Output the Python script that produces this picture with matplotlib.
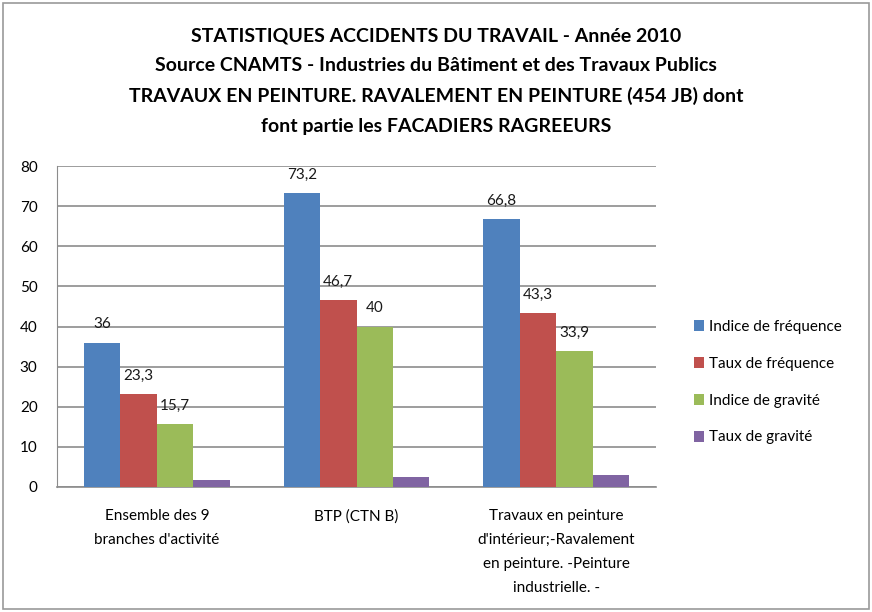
import matplotlib.pyplot as plt
import numpy as np
from matplotlib.patches import Rectangle

plt.rcParams['font.family'] = ['Lato', 'DejaVu Sans']

# Données
categories = ["Ensemble des 9\nbranches d'activité",
              "BTP (CTN B)",
              "Travaux en peinture\nd'intérieur;-Ravalement\nen peinture. -Peinture\nindustrielle. -"]
series = ["Indice de fréquence", "Taux de fréquence", "Indice de gravité", "Taux de gravité"]
indice_frequence = [36, 73.2, 66.8]
taux_frequence = [23.3, 46.7, 43.3]
indice_gravite = [15.7, 40, 33.9]
taux_gravite = [1.8, 2.6, 3.0]
labels_visibles = [True, True, True, False]

couleurs = ['#4F81BD', '#C0504D', '#9BBB59', '#8064A2']
valeurs = [indice_frequence, taux_frequence, indice_gravite, taux_gravite]

fig = plt.figure(figsize=(8.72, 6.12), dpi=100)
ax = fig.add_axes([57/872, 1 - 487/612, (656 - 57)/872, (487 - 166)/612])

x = np.arange(len(categories))
largeur = 0.73 / 4
for i, (nom, vals, c) in enumerate(zip(series, valeurs, couleurs)):
    pos = x - 0.365 + largeur * (i + 0.5)
    barres = ax.bar(pos, vals, largeur, color=c, label=nom, zorder=3)
    if labels_visibles[i]:
        for b, v in zip(barres, vals):
            txt = f"{v:g}".replace('.', ',')
            ax.annotate(txt, (b.get_x() + b.get_width() / 2, v),
                        xytext=(0, 8), textcoords='offset points',
                        ha='center', va='bottom', fontsize=11, color='#1a1a1a')

ax.set_xlim(-0.5, 2.5)
ax.set_ylim(0, 80)
ax.set_yticks(range(0, 81, 10))
ax.set_xticks(x)
ax.set_xticklabels(categories, fontsize=11, linespacing=1.9, va='top')
ax.tick_params(axis='y', length=0, pad=14, labelsize=11)
ax.tick_params(axis='x', length=0, pad=16)
ax.grid(axis='y', color='#8c8c8c', linewidth=1.2, zorder=0)
for s in ['top', 'right']:
    ax.spines[s].set_visible(False)
ax.spines['left'].set_color('#8c8c8c')
ax.spines['bottom'].set_color('#8c8c8c')
ax.spines['bottom'].set_linewidth(1.2)

fig.legend(loc='upper left', bbox_to_anchor=(680/872, 1 - 306/612),
           frameon=False, fontsize=11, handlelength=0.7, handleheight=0.7,
           handletextpad=0.3, labelspacing=1.5)

titre = ("STATISTIQUES ACCIDENTS DU TRAVAIL - Année 2010\n"
         "Source CNAMTS - Industries du Bâtiment et des Travaux Publics\n"
         "TRAVAUX EN PEINTURE. RAVALEMENT EN PEINTURE (454 JB) dont\n"
         "font partie les FACADIERS RAGREEURS")
fig.text(0.5, 1 - 28/612, titre, ha='center', va='top',
         fontsize=14, fontweight='bold', linespacing=1.87)

fig.patches.append(Rectangle((3/872, 3/612), 1 - 6/872, 1 - 6/612,
                             transform=fig.transFigure, fill=False,
                             edgecolor='#9a9a9a', linewidth=1.2))

plt.savefig('out.png', dpi=100)
